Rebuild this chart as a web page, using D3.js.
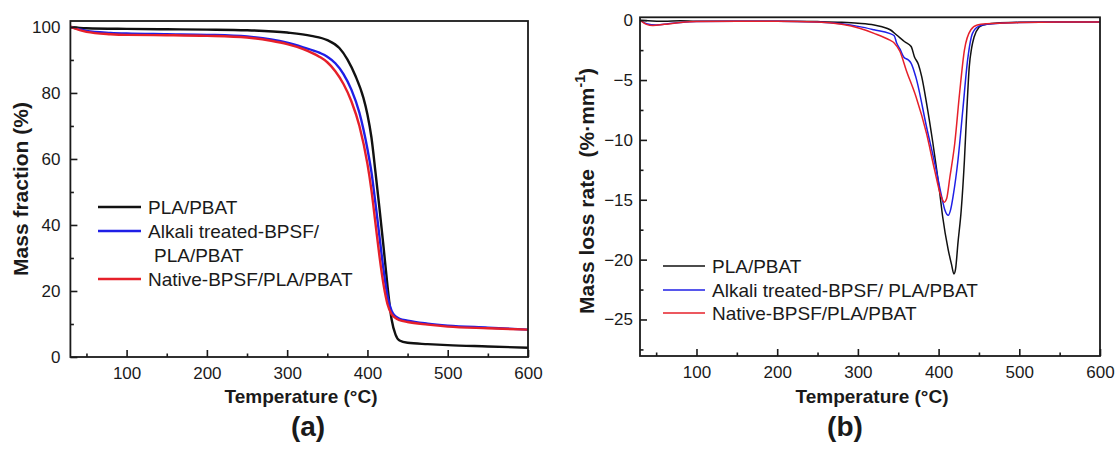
<!DOCTYPE html>
<html>
<head>
<meta charset="utf-8">
<script src="https://cdn.jsdelivr.net/npm/d3@7"></script>
<style>
    body { margin: 0; background: #fff; }
    svg text { font-family: "Liberation Sans", Arial, sans-serif; fill: #1a1a1a; }
</style>
</head>
<body>
<svg id="chart" width="1117" height="449"></svg>
<script>
// ---- data ----
const seriesNames = ['PLA/PBAT', 'Alkali treated-BPSF/ PLA/PBAT', 'Native-BPSF/PLA/PBAT'];
const tempTicks = [100, 200, 300, 400, 500, 600];
const tempMinor = [50, 150, 250, 350, 450, 550];
const massTicks = [0, 20, 40, 60, 80, 100];
const massMinor = [10, 30, 50, 70, 90];
const rateTicks = [0, -5, -10, -15, -20, -25];
const rateMinor = [-2.5, -7.5, -12.5, -17.5, -22.5, -27.5];

// (a) TGA, mass fraction %
const tgaPlaT = [30, 50, 100, 150, 200, 250, 300, 330, 350, 365, 375, 385, 395, 400, 405, 410, 415, 420, 425, 430, 435, 440, 450, 475, 500, 550, 600];
const tgaPlaM = [100, 99.6, 99.4, 99.3, 99.2, 99.0, 98.3, 97.3, 96.0, 93.6, 90.2, 85.2, 78.5, 73.5, 66.5, 56, 45, 33.5, 21.5, 11.5, 6.8, 5.0, 4.3, 3.9, 3.6, 3.2, 2.8];
const tgaAlkT = [30, 50, 80, 100, 150, 200, 250, 280, 300, 320, 340, 350, 360, 370, 380, 390, 400, 405, 410, 415, 420, 425, 430, 435, 440, 450, 475, 500, 550, 600];
const tgaAlkM = [100, 98.8, 98.2, 98.0, 97.8, 97.6, 97.1, 96.2, 95.2, 93.8, 92.2, 91.0, 89.0, 85.8, 81.0, 74.0, 63.0, 56.0, 46.5, 36.5, 26.5, 18.5, 14.0, 12.3, 11.6, 11.0, 10.1, 9.5, 8.9, 8.3];
const tgaNatT = [30, 50, 80, 100, 150, 200, 250, 280, 300, 320, 340, 350, 360, 370, 380, 390, 400, 405, 410, 415, 420, 425, 430, 435, 440, 450, 475, 500, 550, 600];
const tgaNatM = [100, 98.5, 97.8, 97.6, 97.5, 97.3, 96.8, 95.8, 94.8, 93.3, 91.0, 89.3, 86.6, 82.8, 77.5, 70.0, 58.5, 50.5, 40.5, 30.5, 22.0, 16.0, 13.0, 11.8, 11.2, 10.6, 9.8, 9.2, 8.7, 8.3];

// (b) DTG, mass loss rate
const dtgPlaT = [30, 40, 60, 80, 100, 150, 200, 250, 280, 300, 320, 330, 340, 348, 358, 366, 370, 375, 379, 385, 393, 401, 405, 412, 416, 419, 421, 424, 428, 432, 435, 438, 441, 444, 450, 455, 470, 500, 550, 600];
const dtgPlaR = [0, -0.05, -0.1, -0.05, -0.1, -0.1, -0.08, -0.12, -0.18, -0.26, -0.4, -0.55, -0.8, -1.24, -1.8, -2.2, -3.05, -3.7, -4.7, -6.9, -10.3, -14.2, -16.4, -19.2, -20.4, -21.2, -20.8, -18.6, -15.9, -11.7, -7.5, -3.9, -2.3, -1.4, -0.6, -0.4, -0.25, -0.18, -0.15, -0.15];
const dtgAlkT = [30, 38, 50, 65, 80, 100, 150, 200, 250, 280, 302, 320, 339, 345, 348, 352, 357, 362, 366, 372, 385, 397, 404, 408, 412, 415, 418, 424, 430, 436, 442, 450, 460, 500, 550, 600];
const dtgAlkR = [0, -0.3, -0.4, -0.3, -0.2, -0.12, -0.1, -0.1, -0.15, -0.3, -0.54, -0.8, -1.1, -1.3, -1.9, -2.4, -3.1, -3.3, -3.6, -4.8, -8.9, -12.5, -14.8, -15.9, -16.3, -15.8, -14.7, -11.7, -7.5, -3.3, -1.1, -0.5, -0.35, -0.2, -0.15, -0.15];
const dtgNatT = [30, 38, 46, 60, 80, 100, 150, 200, 250, 280, 302, 320, 339, 345, 352, 360, 372, 385, 395, 403, 407, 410, 414, 420, 426, 432, 440, 448, 460, 500, 550, 600];
const dtgNatR = [0, -0.35, -0.45, -0.35, -0.2, -0.12, -0.1, -0.1, -0.15, -0.35, -0.68, -1.1, -1.65, -1.9, -2.6, -4.2, -6.4, -9.45, -12.5, -14.7, -15.2, -14.9, -13.1, -10.3, -6.1, -2.5, -0.8, -0.4, -0.3, -0.2, -0.15, -0.15];

const colors = ['#111111', '#1f1fe6', '#e6202a'];
const svg = d3.select('#chart');

function drawPanel(p) {
    const x = d3.scaleLinear().domain([30, 600]).range([p.left, p.right]);
    const y = d3.scaleLinear().domain(p.yDomain).range([p.bottom, p.top]);
    const g = svg.append('g');

    const line = d3.line().x(d => x(d[0])).y(d => y(d[1])).curve(d3.curveMonotoneX);
    p.series.forEach((s, i) => {
        g.append('path').datum(d3.zip(s[0], s[1]))
            .attr('fill', 'none').attr('stroke', colors[i])
            .attr('stroke-width', p.lineWidth).attr('stroke-linejoin', 'round')
            .attr('d', line);
    });

    // axes, ticks pointing inward
    const ax = g.append('g').attr('transform', `translate(0,${p.bottom})`)
        .call(d3.axisBottom(x).tickValues(tempTicks).tickSize(-7).tickPadding(10));
    const axm = g.append('g').attr('transform', `translate(0,${p.bottom})`)
        .call(d3.axisBottom(x).tickValues(tempMinor).tickSize(-3.5).tickFormat(''));
    const ay = g.append('g').attr('transform', `translate(${p.left},0)`)
        .call(d3.axisLeft(y).tickValues(p.yTicks).tickSize(-7).tickPadding(p.yPad));
    const aym = g.append('g').attr('transform', `translate(${p.left},0)`)
        .call(d3.axisLeft(y).tickValues(p.yMinor).tickSize(-3.5).tickFormat(''));
    [ax, axm, ay, aym].forEach(a => {
        a.select('.domain').remove();
        a.attr('font-size', 17).attr('color', '#1a1a1a');
        a.selectAll('line').attr('stroke-width', 1.6);
    });

    g.append('rect').attr('x', p.left).attr('y', p.top)
        .attr('width', p.right - p.left).attr('height', p.bottom - p.top)
        .attr('fill', 'none').attr('stroke', '#1a1a1a').attr('stroke-width', 1.8);

    // legend
    p.legend.forEach(l => {
        if (l.color) {
            g.append('line').attr('x1', p.legX[0]).attr('x2', p.legX[1])
                .attr('y1', l.y).attr('y2', l.y)
                .attr('stroke', l.color).attr('stroke-width', p.legWidth);
        }
        g.append('text').attr('x', l.x).attr('y', l.y).attr('dy', '0.35em')
            .attr('font-size', 19).text(l.text);
    });

    // titles
    g.append('text').attr('x', p.xTitle).attr('y', 403).attr('text-anchor', 'middle')
        .attr('font-size', 19).attr('font-weight', 'bold').text('Temperature (°C)');
    g.append('text').attr('x', p.xTitle + p.tagShift).attr('y', 436).attr('text-anchor', 'middle')
        .attr('font-size', 28).attr('font-weight', 'bold').text(p.tag);
    const yt = g.append('text').attr('text-anchor', 'middle')
        .attr('transform', `translate(${p.yTitleX},${p.yTitleY}) rotate(-90)`)
        .attr('font-size', 21).attr('font-weight', 'bold');
    p.yTitle(yt);
}

drawPanel({
    left: 70.4, right: 528, top: 21, bottom: 357,
    yDomain: [0, 101.8], yTicks: massTicks, yMinor: massMinor, yPad: 10,
    lineWidth: 2.4, legWidth: 2.6, legX: [98, 141],
    series: [[tgaPlaT, tgaPlaM], [tgaAlkT, tgaAlkM], [tgaNatT, tgaNatM]],
    legend: [
        { y: 207, x: 148, text: seriesNames[0], color: colors[0] },
        { y: 231, x: 148, text: 'Alkali treated-BPSF/', color: colors[1] },
        { y: 255, x: 154, text: 'PLA/PBAT' },
        { y: 279, x: 148, text: seriesNames[2], color: colors[2] }
    ],
    xTitle: 301, tagShift: 7, tag: '(a)',
    yTitleX: 28, yTitleY: 189,
    yTitle: t => t.text('Mass fraction (%)')
});

drawPanel({
    left: 640, right: 1100, top: 17.3, bottom: 356,
    yDomain: [-28.05, 0.24], yTicks: rateTicks, yMinor: rateMinor, yPad: 7,
    lineWidth: 1.5, legWidth: 1.3, legX: [663, 705],
    series: [[dtgPlaT, dtgPlaR], [dtgAlkT, dtgAlkR], [dtgNatT, dtgNatR]],
    legend: [
        { y: 266, x: 712, text: seriesNames[0], color: colors[0] },
        { y: 290, x: 712, text: seriesNames[1], color: colors[1] },
        { y: 313, x: 712, text: seriesNames[2], color: colors[2] }
    ],
    xTitle: 872, tagShift: -27, tag: '(b)',
    yTitleX: 594, yTitleY: 191,
    yTitle: t => {
        t.append('tspan').text('Mass loss rate\u00a0 (%·mm');
        t.append('tspan').attr('font-size', 14).attr('dy', -9).text('-1');
        t.append('tspan').attr('dy', 9).text(')');
    }
});
</script>
</body>
</html>
